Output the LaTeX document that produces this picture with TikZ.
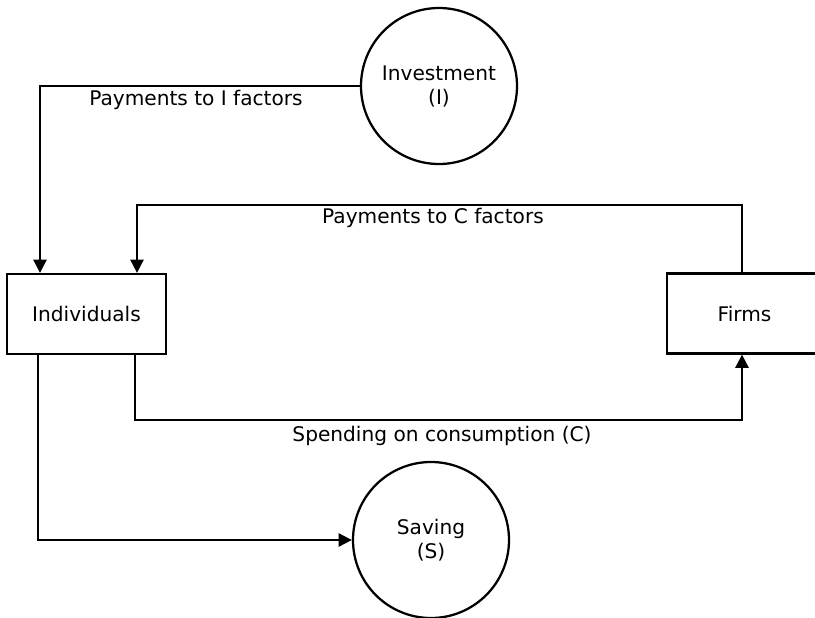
\documentclass[tikz,border=0pt]{standalone}
\usepackage{fontspec}
\setmainfont{DejaVu Sans}
\usetikzlibrary{arrows.meta,calc}
\begin{document}
\begin{tikzpicture}[x=0.75pt,y=-0.75pt,
  every node/.style={font=\fontsize{15.1pt}{18pt}\selectfont, inner sep=0pt},
  boxnode/.style={draw, line width=1.7pt, rectangle, minimum height=60pt},
  circnode/.style={draw, line width=1.7pt, circle, minimum size=117pt, align=center},
  flow/.style={line width=1.4pt},
  arr/.style={flow, -{Triangle[length=10pt,width=10pt]}},
  lbl/.style={anchor=center}]
\useasboundingbox (0,0) rectangle (815,618);
\begin{scope}
\clip (0,0) rectangle (815,618);
\node[circnode] (inv) at (439,86) {Investment\\(I)};
\node[boxnode, minimum width=119.25pt] (ind) at (86.5,314) {Individuals};
\node[boxnode, minimum width=116.25pt] (firms) at (744.5,313.5) {Firms};
\node[circnode] (sav) at (431,540) {Saving\\(S)};

\coordinate (iL) at (40,87);
\coordinate (c1) at (742,205);
\coordinate (c2) at (137,205);
\coordinate (s1) at (135,420);
\coordinate (s2) at (742,420);
\coordinate (v1) at (38,540);

\draw[arr] (inv.west) -| (iL |- ind.north);
\draw[arr] (c1 |- firms.north) -- (c1) -- (c2) -- (c2 |- ind.north);
\draw[arr] (s1 |- ind.south) -- (s1) -- (s2) -- (s2 |- firms.south);
\draw[arr] (v1 |- ind.south) |- (sav.west);

\node[lbl] (lI) at (196,100) {Payments to I factors};
\node[lbl] (lC) at (433,218) {Payments to C factors};
\node[lbl] (lS) at (442,436) {Spending on consumption (C)};
\end{scope}
\end{tikzpicture}
\end{document}
